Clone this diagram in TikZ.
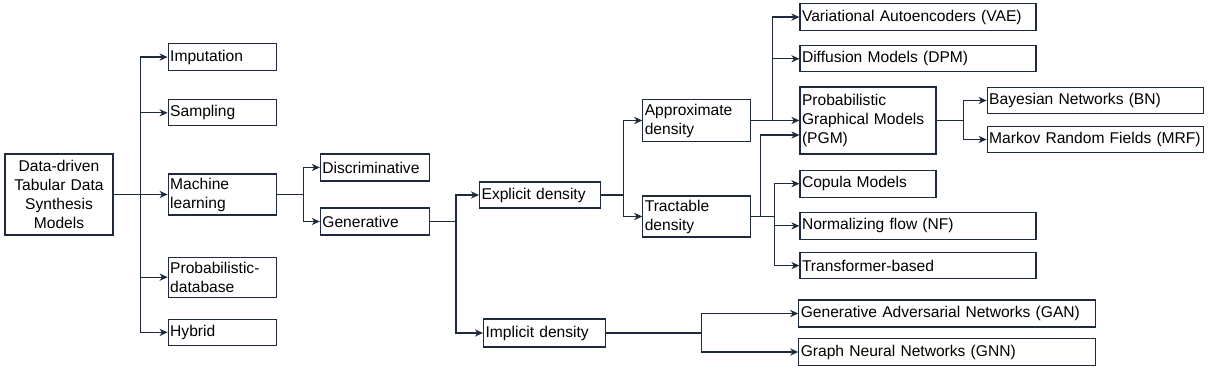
\documentclass[tikz,border=0pt]{standalone}
\usepackage{fontspec}
\setmainfont{Liberation Sans}
\usetikzlibrary{positioning,arrows.meta,calc}
\definecolor{linec}{HTML}{1F2A3D}

\begin{document}
\begin{tikzpicture}[
    node distance=7pt and 24pt,
    box/.style={draw=linec, line width=0.6pt, align=left, inner xsep=1pt, inner ysep=0pt, minimum height=13.5pt, text width=52pt, font=\fontsize{7.8}{9.5}\selectfont},
    two/.style={minimum height=20.5pt},
    arr/.style={-{Stealth[length=4pt, width=3.6pt, inset=1.2pt]}, line width=0.6pt, draw=linec}
]
\useasboundingbox (0,0) rectangle (606.5pt,-189pt);
\node[box, align=center, minimum height=40.5pt] (root) at (29.5pt,-97.25pt) {Data-driven\\ Tabular Data\\ Synthesis\\ Models};
\node[box, two, right=27pt of root] (ml) {Machine\\ learning};
\node[box, minimum height=13pt, above=23.5pt of ml] (samp) {Sampling};
\node[box, above=14pt of samp] (imp) {Imputation};
\node[box, two, minimum height=20pt, below=20.5pt of ml] (prob) {Probabilistic-\\ database};
\node[box, minimum height=13pt, below=10.5pt of prob] (hyb) {Hybrid};
\node[box, text width=52.5pt, right=21.5pt of ml, yshift=13.5pt] (disc) {Discriminative};
\node[box, text width=52.5pt, right=21.5pt of ml, yshift=-13.5pt] (gen) {Generative};
\node[box, text width=58.5pt, minimum height=13pt, right=24.5pt of gen, yshift=13.25pt] (expl) {Explicit density};
\node[box, text width=59pt, minimum height=14pt, right=26.5pt of gen, yshift=-55.75pt] (impl) {Implicit density};
\node[box, two, minimum height=21pt, right=20.5pt of expl, yshift=37.25pt] (approx) {Approximate\\ density};
\node[box, two, right=20.5pt of expl, yshift=-10.75pt] (tract) {Tractable\\ density};
\node[box, text width=66pt, minimum height=33.5pt, right=24pt of approx] (pgm) {Probabilistic\\ Graphical Models\\ (PGM)};
\node[box, text width=116pt, minimum height=13pt, above=7pt of pgm.north west, anchor=south west] (dpm) {Diffusion Models (DPM)};
\node[box, text width=116pt, above=7pt of dpm] (vae) {Variational Autoencoders (VAE)};
\node[box, text width=66pt, below=7.5pt of pgm] (cop) {Copula Models};
\node[box, text width=116pt, below=7pt of cop.south west, anchor=north west] (nf) {Normalizing flow (NF)};
\node[box, text width=116pt, minimum height=13pt, below=6pt of nf] (trans) {Transformer-based};
\node[box, text width=106pt, minimum height=13pt, right=25pt of pgm, yshift=10pt] (bn) {Bayesian Networks (BN)};
\node[box, text width=106pt, minimum height=13pt, right=25pt of pgm, yshift=-9.5pt] (mrf) {Markov Random Fields (MRF)};
\node[box, text width=146.5pt, right=96pt of impl, yshift=9.75pt] (gan) {Generative Adversarial Networks (GAN)};
\node[box, text width=146.5pt, right=96pt of impl, yshift=-9.5pt] (gnn) {Graph Neural Networks (GNN)};
\draw[arr] (root.east) -- ++(13.5pt,0) coordinate (r) |- (imp.west);
\draw[arr] (r |- samp) -- (samp);
\draw[arr] (r) -- (ml);
\draw[arr] (r) |- (hyb.west);
\draw[arr] (r |- prob) -- (prob);
\draw[arr] (ml.east) -- ++(13.5pt,0) coordinate (m) |- (disc.west);
\draw[arr] (m) |- (gen.west);
\draw[arr] (gen.east) -- ++(13pt,0) coordinate (g) |- (expl.west);
\draw[arr] (g) |- (impl.west);
\draw[arr] (expl.east) -- ++(11pt,0) coordinate (e) |- (approx.west);
\draw[arr] (e) |- (tract.west);
\draw[arr] (approx.east) -- ++(10.5pt,0) coordinate (a) -- (pgm.west);
\draw[arr] (a) |- (vae.west);
\draw[arr] (a |- dpm) -- (dpm);
\draw[arr] (tract.east) -- ++(4.5pt,0) coordinate (t) |- ([yshift=-7.25pt]pgm.west);
\draw[arr] (t) -- ++(7pt,0) coordinate (u) |- (cop.west);
\draw[arr] (u) |- (trans.west);
\draw[arr] (u |- nf) -- (nf);
\draw[arr] (pgm.east) -- ++(13.5pt,0) coordinate (p) |- (bn.west);
\draw[arr] (p) |- (mrf.west);
\draw[arr] (impl.east) -- ++(47.5pt,0) coordinate (i) |- (gan.west);
\draw[arr] (i) |- (gnn.west);
\end{tikzpicture}
\end{document}
